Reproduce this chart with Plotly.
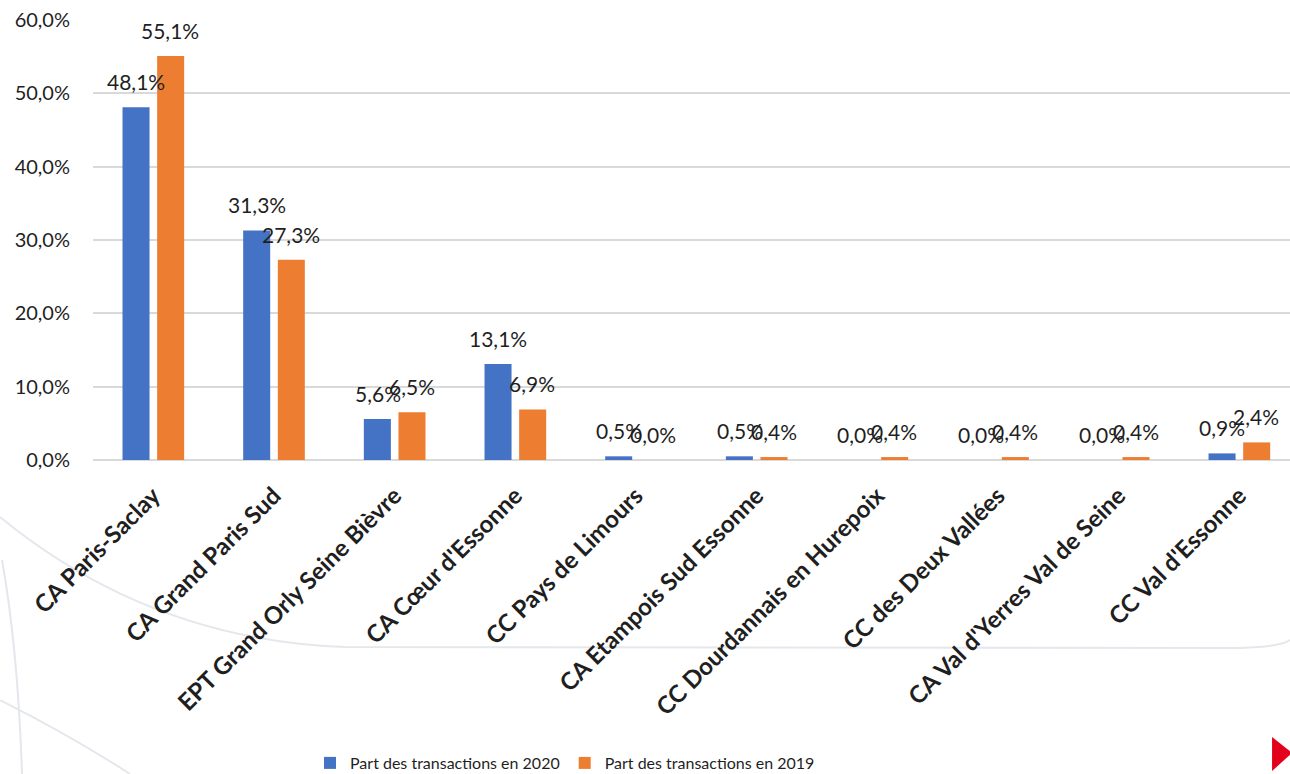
import plotly.graph_objects as go

categories = [
    "CA Paris-Saclay",
    "CA Grand Paris Sud",
    "EPT Grand Orly Seine Bièvre",
    "CA Cœur d'Essonne",
    "CC Pays de Limours",
    "CA Etampois Sud Essonne",
    "CC Dourdannais en Hurepoix",
    "CC des Deux Vallées",
    "CA Val d'Yerres Val de Seine",
    "CC Val d'Essonne",
]
part_2020 = [48.1, 31.3, 5.6, 13.1, 0.5, 0.5, 0.0, 0.0, 0.0, 0.9]
part_2019 = [55.1, 27.3, 6.5, 6.9, 0.0, 0.4, 0.4, 0.4, 0.4, 2.4]
series_names = ["Part des transactions en 2020", "Part des transactions en 2019"]
y_ticks = [0, 10, 20, 30, 40, 50, 60]

BLUE = "#4472c4"
ORANGE = "#ed7d31"
TXT = "#1f1f1f"
FONT = "Lato"

W, H = 1290, 774
L, R, T, B = 93, 0, 20, 314
PW, PH = W - L - R, H - T - B


def fmt(v):
    return f"{v:.1f}%".replace(".", ",")


def px(x, y):
    return (x - L) / PW, (H - B - y) / PH


fig = go.Figure()
fig.add_trace(go.Bar(x=categories, y=part_2020, name=series_names[0],
                     marker=dict(color=BLUE, line=dict(width=0))))
fig.add_trace(go.Bar(x=categories, y=part_2019, name=series_names[1],
                     marker=dict(color=ORANGE, line=dict(width=0))))

annotations = []
for vals, shift in ((part_2020, -17), (part_2019, 17)):
    for c, v in zip(categories, vals):
        annotations.append(dict(
            x=c, y=v, xref="x", yref="y", text=fmt(v), showarrow=False,
            xshift=shift, yshift=11, yanchor="bottom", xanchor="center",
            font=dict(family=FONT, size=21, color=TXT)))

# decorative background arcs
def path(points, cmds):
    s = ""
    for cmd, pts in zip(cmds, points):
        s += cmd + " " + " ".join(f"{a:.4f},{b:.4f}" for a, b in (px(*p) for p in pts)) + " "
    return s.strip()

arc_style = dict(type="path", xref="paper", yref="paper", layer="below",
                 line=dict(color="#e4e7ec", width=2))
shapes = [
    dict(path=path([[(0, 517)], [(150, 640), (345, 647)], [(1240, 648)], [(1280, 647), (1290, 640)]],
                   ["M", "Q", "L", "Q"]), **arc_style),
    dict(path=path([[(0, 700)], [(70, 735), (130, 774)]], ["M", "Q"]), **arc_style),
    dict(path=path([[(2, 560)], [(18, 650), (22, 774)]], ["M", "Q"]), **arc_style),
    dict(type="path", xref="paper", yref="paper", layer="above",
         path=path([[(1272, 737)], [(1292, 753)], [(1272, 771)]], ["M", "L", "L"]) + " Z",
         fillcolor="#e2001a", line=dict(width=0)),
]

fig.update_layout(
    width=W, height=H,
    margin=dict(l=L, r=R, t=T, b=B, pad=0, autoexpand=False),
    paper_bgcolor="white", plot_bgcolor="white",
    barmode="group", bargap=0.426, bargroupgap=0.22,
    font=dict(family=FONT, color=TXT),
    annotations=annotations,
    shapes=shapes,
    showlegend=True,
    legend=dict(orientation="h", x=px(310, 0)[0], xanchor="left",
                y=px(0, 763)[1], yanchor="middle",
                font=dict(family=FONT, size=16, color=TXT),
                bgcolor="rgba(0,0,0,0)", traceorder="normal"),
)
fig.update_xaxes(
    type="category", range=[-0.5, -0.5 + PW / 120.67], automargin=False,
    tickangle=-45, showgrid=False, showline=False, ticks="",
    ticklabelstandoff=16,
    tickfont=dict(family=FONT, size=24, color=TXT, weight="bold"),
)
fig.update_yaxes(
    range=[0, 60], tickvals=y_ticks, ticktext=[fmt(v) for v in y_ticks],
    automargin=False,
    showgrid=True, gridcolor="#d9d9d9", gridwidth=1.5,
    zeroline=True, zerolinecolor="#d9d9d9", zerolinewidth=2,
    showline=False, ticks="", ticklabelstandoff=22,
    tickfont=dict(family=FONT, size=20, color=TXT),
)

fig.write_html("out.html", config={"displayModeBar": False},
               post_script="document.body.style.margin='0';document.body.style.overflow='hidden';")
